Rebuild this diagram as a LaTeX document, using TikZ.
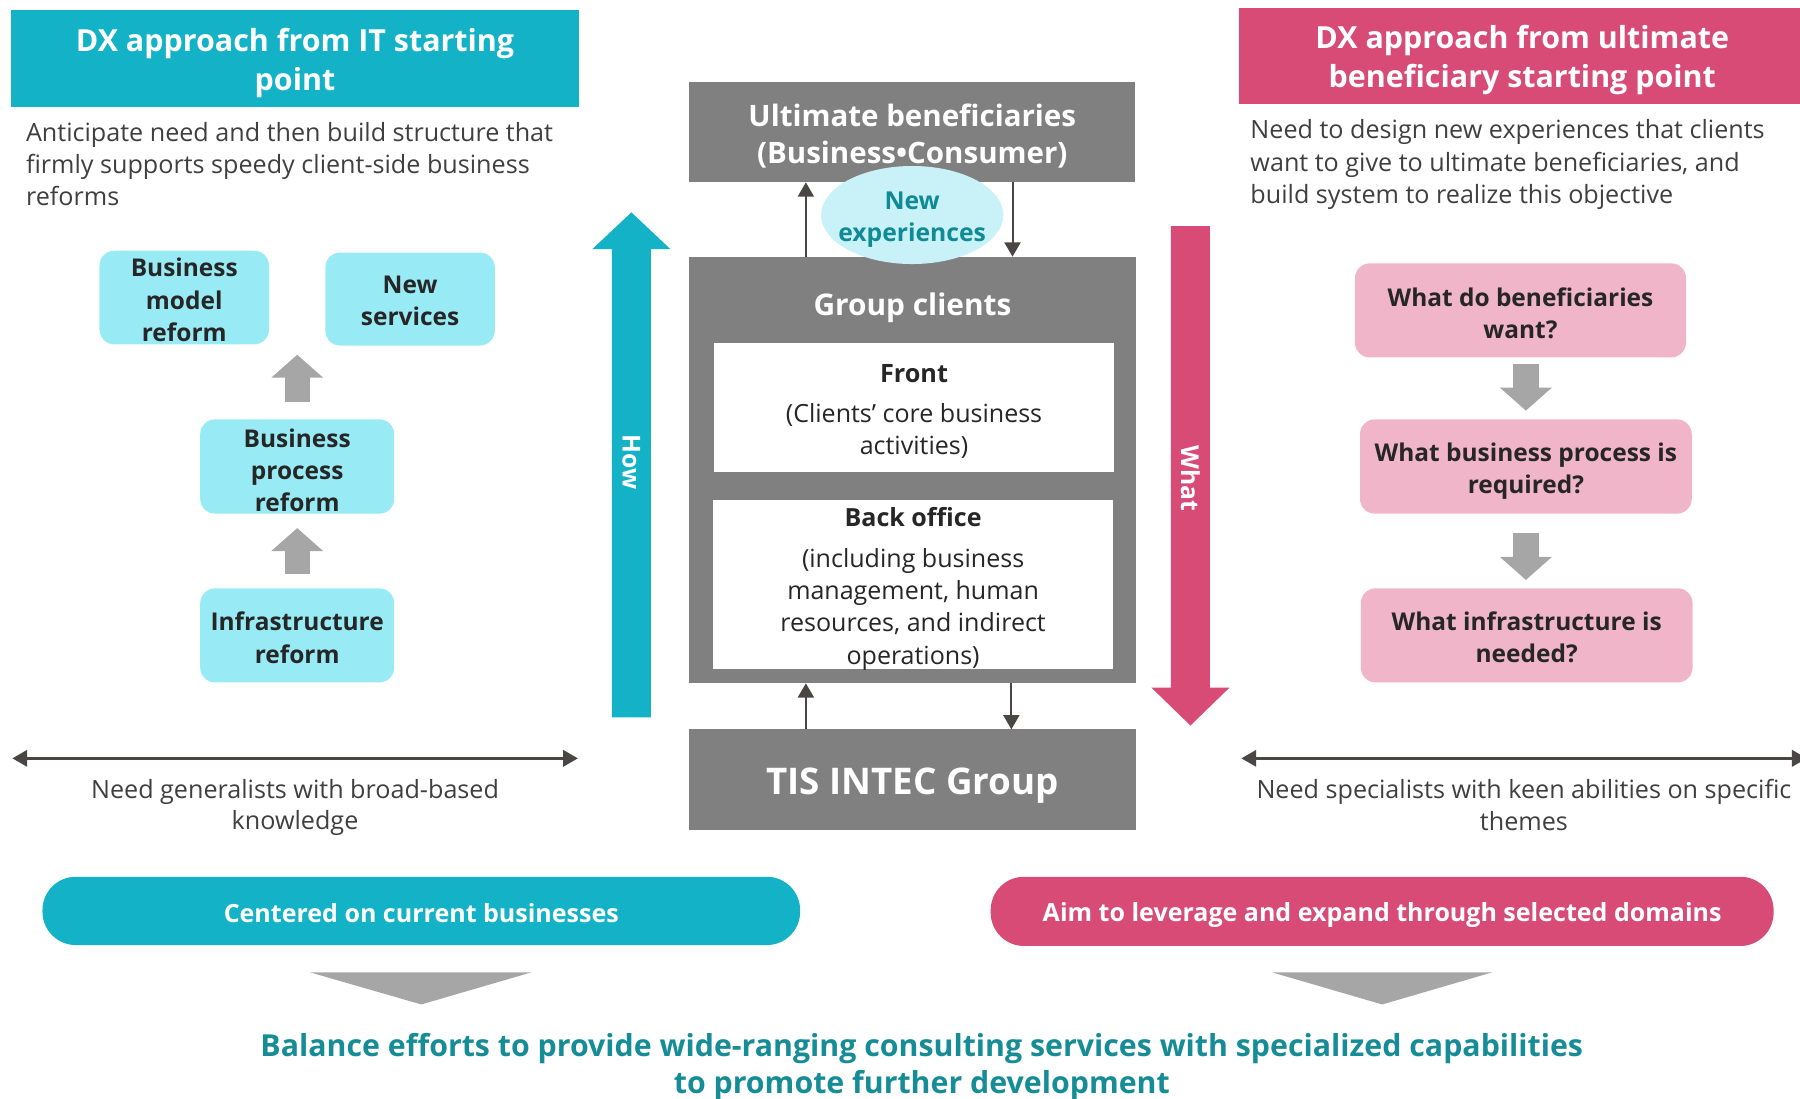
\documentclass[tikz,border=0pt]{standalone}
\usepackage{fontspec}
\setmainfont{Open Sans}
\usetikzlibrary{arrows.meta,shapes.geometric,calc}
\definecolor{teal1}{HTML}{13B2C6}
\definecolor{pink1}{HTML}{D74B76}
\definecolor{lcyan}{HTML}{98EBF5}
\definecolor{lpink}{HTML}{F0B5C8}
\definecolor{midgray}{HTML}{808080}
\definecolor{arrgray}{HTML}{A6A6A6}
\definecolor{darkln}{HTML}{4B4646}
\definecolor{ellfill}{HTML}{C8F2F8}
\definecolor{elltxt}{HTML}{108A95}
\definecolor{bottxt}{HTML}{168C97}
\definecolor{desccol}{HTML}{3F3F3F}
\definecolor{boxtxt}{HTML}{262626}
\newcommand\myfs[2]{\fontsize{#1}{#2}\selectfont}
\tikzset{
  base/.style={inner sep=0pt, outer sep=0pt},
  hdrbox/.style={base, rectangle},
  hdrtext/.style={base, text=white, font=\myfs{26.5}{34}\bfseries, align=center},
  desc/.style={base, anchor=west, align=left, text=desccol, font=\myfs{21.9}{28}},
  cbox/.style={base, rectangle, rounded corners=13pt, fill=lcyan},
  pbox/.style={cbox, fill=lpink},
  boxtext/.style={base, text=boxtxt, font=\myfs{21.3}{28}\bfseries, align=center},
  gbox/.style={base, rectangle, fill=midgray},
  gtext/.style={base, text=white, align=center},
  wbox/.style={base, rectangle, fill=white},
  wtext/.style={base, text=boxtxt, align=center, font=\myfs{21.8}{28}},
  blockarr/.style={draw=arrgray, line width=22pt, -{Triangle[width=44pt,length=20pt]}},
  thinarr/.style={draw=darkln, line width=1.75pt, -{Triangle[width=14pt,length=12.5pt]}},
  dblarr/.style={draw=darkln, line width=2.9pt, {Triangle[width=14pt,length=13pt]}-{Triangle[width=14pt,length=13pt]}},
  pill/.style={base, rectangle, rounded corners=29pt},
  pilltext/.style={base, text=white, font=\myfs{21.8}{28}\bfseries},
  note/.style={base, align=center, text=desccol, font=\myfs{21.9}{27.6}},
  vlabel/.style={base, text=white, rotate=-90, font=\myfs{21.5}{24}\bfseries},
}
\begin{document}
\begin{tikzpicture}[x=1pt, y=-1pt]
\useasboundingbox (0,0) rectangle (1568,957);

% ---------- Left side ----------
\node[hdrbox, fill=teal1, minimum width=494pt, minimum height=84pt] (hdrL) at (257,51) {};
\node[hdrtext] (hdrLt) at ([yshift=-3.8pt]hdrL.center) {DX approach from IT starting\\point};
\node[desc] (descL) at (22.7,142.9)
  {Anticipate need and then build structure that\\firmly supports speedy client-side business\\reforms};

\node[cbox, minimum width=147.7pt, minimum height=81.6pt] (bmr) at (160.5,259.2) {};
\node[boxtext] (bmrt) at ([yshift=-2pt]bmr.center) {Business\\model\\reform};
\node[cbox, minimum width=147.6pt, minimum height=81pt] (ns) at (357.2,260.5) {};
\node[boxtext] (nst) at ([yshift=-1.5pt]ns.center) {New\\services};
\node[cbox, minimum width=169pt, minimum height=82.2pt] (bpr) at (258.9,406.4) {};
\node[boxtext] (bprt) at ([yshift=-3pt]bpr.center) {Business\\process\\reform};
\node[cbox, minimum width=169pt, minimum height=82pt] (ir) at (258.9,553.5) {};
\node[boxtext] (irt) at ([yshift=-2pt]ir.center) {Infrastructure\\reform};
\draw[blockarr, shorten <=15.3pt, shorten >=9pt] (bpr.north) -- (bpr.north |- bmr.south);
\draw[blockarr, shorten <=12.5pt, shorten >=12.5pt] (ir.north) -- (bpr.south);

\coordinate (dl1) at (10.7,660.6);
\coordinate (dl2) at (503.5,660.6);
\draw[dblarr] (dl1) -- (dl2);
\node[note] (noteL) at (257,703.3) {Need generalists with broad-based\\knowledge};

% How arrow
\fill[teal1] (533,625) -- (533,217) -- (516,217) -- (550,185) -- (584,217) -- (567,217) -- (567,625) -- cycle;
\node[vlabel] (how) at (550,402.8) {How};

% ---------- Centre ----------
\node[gbox, minimum width=388.6pt, minimum height=87.7pt] (ub) at (794.7,115) {};
\node[gtext, font=\myfs{25.7}{32}\bfseries] (ubt) at ([yshift=-3.6pt]ub.center)
  {Ultimate beneficiaries\\(Business\textbullet Consumer)};
\node[gbox, minimum width=389pt, minimum height=371.6pt] (gc) at (794.9,409.4) {};
\node[gtext, font=\myfs{26}{30}\bfseries] (gct) at (794.9,268.4) {Group clients};
\node[wbox, minimum width=348.4pt, minimum height=112.4pt] (front) at (796.2,354.7) {};
\node[wtext] (frontt) at ([yshift=-4pt]front.center)
  {{\myfs{22}{28}\bfseries Front}\\[7pt](Clients’ core business\\activities)};
\node[wbox, minimum width=348.3pt, minimum height=147.2pt] (back) at (795.4,509.2) {};
\node[wtext] (backt) at ([yshift=-3.5pt]back.center)
  {{\myfs{21.8}{28}\bfseries Back office}\\[8pt](including business\\management, human\\resources, and indirect\\operations)};
\node[gbox, minimum width=389pt, minimum height=87.7pt] (tis) at (794.9,679.2) {};
\node[gtext, font=\myfs{32}{36}\bfseries] (tist) at ([yshift=-5pt]tis.center) {TIS INTEC Group};

\draw[thinarr] ([xshift=101.6pt]gc.north west) -- ([xshift=101.6pt]ub.south west);
\draw[thinarr] ([xshift=281.6pt]ub.south west) -- ([xshift=281.6pt]gc.north west);
\draw[thinarr] ([xshift=101.6pt]tis.north west) -- ([xshift=101.6pt]gc.south west);
\draw[thinarr] ([xshift=280.6pt]gc.south west) -- ([xshift=280.6pt]tis.north west);

\node[base, ellipse, fill=ellfill, minimum width=158.8pt, minimum height=85.4pt] (ell) at (794.6,187.3) {};
\node[base, text=elltxt, font=\myfs{21.5}{28.5}\bfseries, align=center] (ellt) at ([yshift=-4pt]ell.center) {New\\experiences};

% What arrow
\fill[pink1] (1020,197) -- (1054,197) -- (1054,599) -- (1071,599) -- (1037,632) -- (1003,599) -- (1020,599) -- cycle;
\node[vlabel] (what) at (1037,417) {What};

% ---------- Right side ----------
\node[hdrbox, fill=pink1, minimum width=488.7pt, minimum height=83.7pt] (hdrR) at (1323.6,49.1) {};
\node[hdrtext] (hdrRt) at ([xshift=2.5pt,yshift=-3.2pt]hdrR.center) {DX approach from ultimate\\beneficiary starting point};
\node[desc] (descR) at (1089.3,143.3)
  {Need to design new experiences that clients\\want to give to ultimate beneficiaries, and\\build system to realize this objective};

\node[pbox, minimum width=288.4pt, minimum height=82pt] (wdbw) at (1324.5,270.4) {};
\node[boxtext] (wdbwt) at ([yshift=-2.7pt]wdbw.center) {What do beneficiaries\\want?};
\node[pbox, minimum width=289pt, minimum height=82.2pt] (wbpr) at (1329.2,406.4) {};
\node[boxtext] (wbprt) at ([yshift=-4pt]wbpr.center) {What business process is\\required?};
\node[pbox, minimum width=289pt, minimum height=82pt] (win) at (1329.9,553.5) {};
\node[boxtext] (wint) at ([yshift=-2pt]win.center) {What infrastructure is\\needed?};
\draw[blockarr, shorten <=5.7pt, shorten >=7.6pt] (wbpr.north |- wdbw.south) -- (wbpr.north);
\draw[blockarr, shorten <=17pt, shorten >=7.3pt] (wbpr.south) -- (wbpr.south |- win.north);

\coordinate (dr1) at (1081.3,660.6);
\coordinate (dr2) at (1574,660.6);
\draw[dblarr] (dr1) -- (dr2);
\node[note] (noteR) at (1327.5,701.5) {Need specialists with keen abilities on specific\\themes};

% ---------- Bottom ----------
\node[pill, fill=teal1, minimum width=660pt, minimum height=59.5pt] (pillL) at (367,793.5) {};
\node[pilltext] (pillLt) at ([yshift=-2pt]pillL.center) {Centered on current businesses};
\node[pill, fill=pink1, minimum width=682pt, minimum height=60.3pt] (pillR) at (1204,793.9) {};
\node[pilltext] (pillRt) at ([yshift=-3pt]pillR.center) {Aim to leverage and expand through selected domains};
\fill[arrgray] (270,847) -- (463,847) -- (367,875) -- cycle;
\fill[arrgray] (1108,847) -- (1300,847) -- (1204,875) -- cycle;
\node[base, align=center, text=bottxt, font=\myfs{26.4}{32.5}\bfseries] (concl) at (803,929.6)
  {Balance efforts to provide wide-ranging consulting services with specialized capabilities\\to promote further development};
\end{tikzpicture}
\end{document}
